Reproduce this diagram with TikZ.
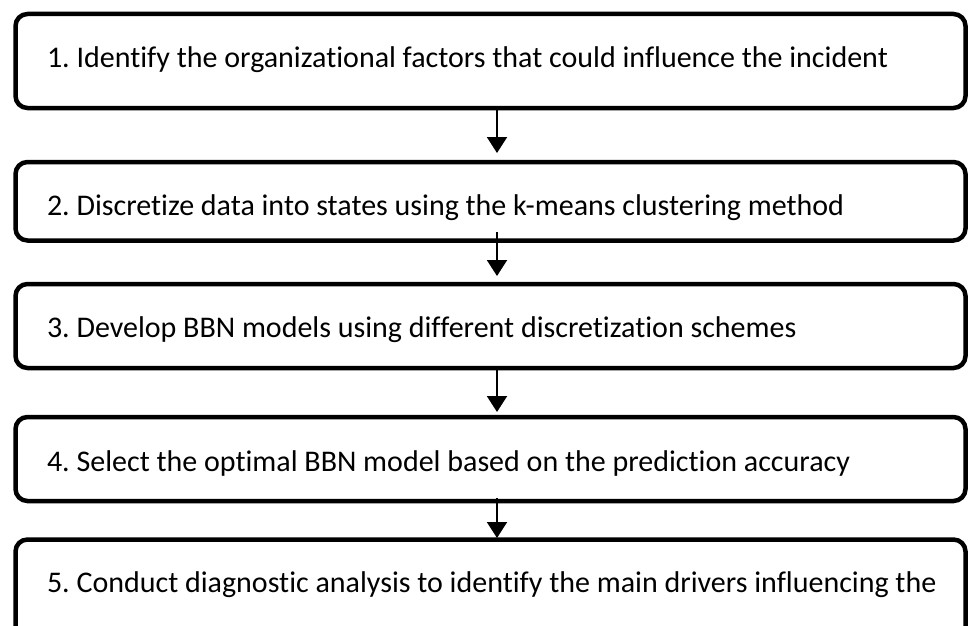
\documentclass[tikz,border=0pt]{standalone}
\usepackage{fontspec}
\setmainfont{Carlito}[Ligatures={NoCommon}]
\usetikzlibrary{arrows.meta}

\begin{document}
\frenchspacing
\begin{tikzpicture}[x=1pt, y=-1pt,
  stepbox/.style={draw=black, line width=4.5pt, rounded corners=12pt,
    rectangle, inner sep=0pt, outer sep=0pt, anchor=north west,
    minimum width=950pt},
  steptext/.style={anchor=base west, inner sep=0pt, outer sep=0pt,
    font=\fontsize{30}{36}\selectfont, text=black},
  flow/.style={line width=2pt, -{Triangle[width=20pt,length=16pt]}}
]
\useasboundingbox (0,0) rectangle (969,626);
\clip (0,0) rectangle (969,626);

% the five process steps
\node[stepbox, minimum height=94pt]   (b1) at (15.5,14)  {};
\node[stepbox, minimum height=78.5pt] (b2) at (15.5,162) {};
\node[stepbox, minimum height=84pt]   (b3) at (15.5,284) {};
\node[stepbox, minimum height=84pt]   (b4) at (15.5,417) {};
\node[stepbox, minimum height=120pt]  (b5) at (15.5,539.5) {};

\node[steptext] (t1) at (47,67)  {1. Identify the organizational factors that could influence the incident};
\node[steptext] (t2) at (47,215) {2. Discretize data into states using the k-means clustering method};
\node[steptext] (t3) at (47,337) {3. Develop BBN models using different discretization schemes};
\node[steptext] (t4) at (47,471) {4. Select the optimal BBN model based on the prediction accuracy};
\node[steptext] (t5) at (47,592) {5. Conduct diagnostic analysis to identify the main drivers influencing the};

% connectors between consecutive steps
\draw[flow] ([xshift=481.5pt]b1.south west) -- ([xshift=481.5pt, yshift=9pt]b2.north west);
\draw[flow] ([xshift=481.5pt, yshift=8.5pt]b2.south west) -- ([xshift=481.5pt, yshift=8pt]b3.north west);
\draw[flow] ([xshift=481.5pt]b3.south west) -- ([xshift=481.5pt, yshift=5pt]b4.north west);
\draw[flow] ([xshift=481.5pt, yshift=3pt]b4.south west) -- ([xshift=481.5pt, yshift=1.5pt]b5.north west);
\end{tikzpicture}
\end{document}
